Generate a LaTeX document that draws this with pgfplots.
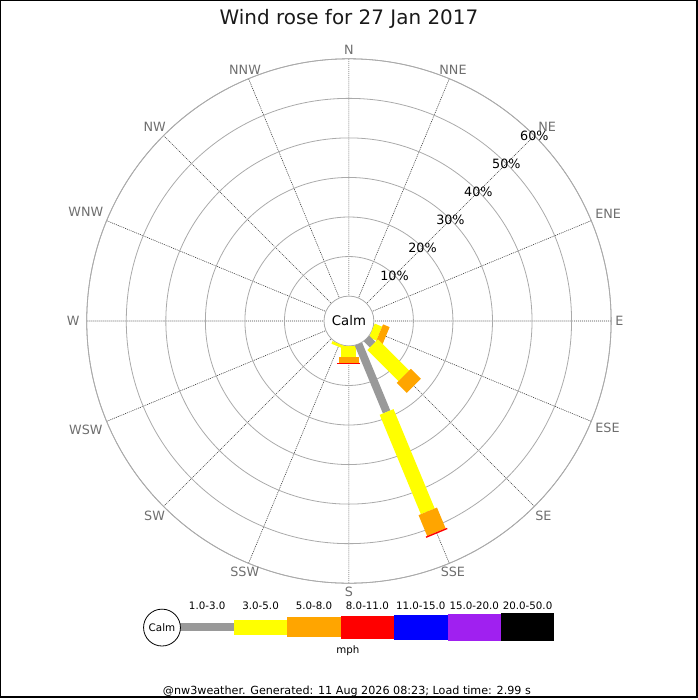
\documentclass[border=0pt]{standalone}
\usepackage{pgfplots}
\pgfplotsset{compat=1.18}
\usepgfplotslibrary{polar}
\usepackage{fontspec}
\setmainfont{DejaVu Sans}
\definecolor{ringgray}{RGB}{170,170,170}
\definecolor{spoke}{RGB}{60,60,60}
\definecolor{dirgray}{RGB}{110,110,110}
\definecolor{wgray}{RGB}{153,153,153}
\definecolor{wyellow}{RGB}{255,255,0}
\definecolor{worange}{RGB}{255,165,0}
\definecolor{wred}{RGB}{255,0,0}
\definecolor{wblue}{RGB}{0,0,255}
\definecolor{wpurple}{RGB}{160,32,240}
\pgfplotsset{
  wbar/.style={no markers, line cap=butt, y filter/.expression={y+6.3}, forget plot},
}
\tikzset{
  dirlab/.style={text=dirgray, inner sep=4bp, font=\fontsize{12.8bp}{15bp}\selectfont},
  pct/.style={text=black, inner sep=0pt, font=\fontsize{12.8bp}{15bp}\selectfont},
  leglab/.style={anchor=base, font=\fontsize{10.3bp}{12bp}\selectfont},
}
\begin{document}
\begin{tikzpicture}[x=1bp,y=1bp]
\path (0,0) rectangle (700,700);
\draw[line width=1.5bp] (0.75,0.75) rectangle (699.25,699.25);
\node[anchor=base, font=\fontsize{20bp}{24bp}\selectfont, text=black!90] at (350,675) {Wind rose for 27 Jan 2017};
\begin{polaraxis}[
  at={(350bp,378bp)}, anchor=center,
  scale only axis, width=526bp, height=526bp,
  xmin=0, xmax=360, ymin=0, ymax=66.3,
  xtick={0,22.5,45,67.5,90,112.5,135,157.5,180,202.5,225,247.5,270,292.5,315,337.5},
  ytick={16.3,26.3,36.3,46.3,56.3,66.3},
  xticklabels={}, yticklabels={},
  grid=major,
  major x grid style={spoke, line width=0.6bp, dash pattern=on 1bp off 1bp},
  major y grid style={ringgray, line width=0.8bp},
  axis line style={ringgray, line width=0.8bp},
  y axis line style={draw=none},
  major tick length=0pt,
  clip=false,
]
\draw[ringgray, line width=0.8bp, fill=white] (axis cs:0,0) circle[radius=25bp];
% SSW
\addplot[wbar, draw=wyellow, line width=15bp] coordinates {(247.5,0) (247.5,0.7)};
% S
\addplot[wbar, draw=wyellow, line width=15bp] coordinates {(270,0) (270,2.9)};
\addplot[wbar, draw=worange, line width=20bp] coordinates {(270,2.9) (270,4.2)};
\addplot[wbar, draw=wred, line width=23bp] coordinates {(270,4.2) (270,4.5)};
% ESE
\addplot[wbar, draw=wyellow, line width=15bp] coordinates {(337.5,0) (337.5,2.0)};
\addplot[wbar, draw=worange, line width=20bp] coordinates {(337.5,2.0) (337.5,3.8)};
% SE
\addplot[wbar, draw=wgray, line width=8bp] coordinates {(315,0) (315,2.2)};
\addplot[wbar, draw=wyellow, line width=15bp] coordinates {(315,2.2) (315,13.3)};
\addplot[wbar, draw=worange, line width=20bp] coordinates {(315,13.3) (315,16.9)};
% SSE
\addplot[wbar, draw=wgray, line width=8bp] coordinates {(292.5,0) (292.5,18.6)};
\addplot[wbar, draw=wyellow, line width=15bp] coordinates {(292.5,18.6) (292.5,45.8)};
\addplot[wbar, draw=worange, line width=20bp] coordinates {(292.5,45.8) (292.5,51.5)};
\addplot[wbar, draw=wred, line width=23bp] coordinates {(292.5,51.5) (292.5,51.85)};
\node[font=\fontsize{13.3bp}{15bp}\selectfont] at (axis cs:0,0) {Calm};
% percent labels
\node[pct] at (axis cs:45,16.3) {10\%};
\node[pct] at (axis cs:45,26.3) {20\%};
\node[pct] at (axis cs:45,36.3) {30\%};
\node[pct] at (axis cs:45,46.3) {40\%};
\node[pct] at (axis cs:45,56.3) {50\%};
\node[pct] at (axis cs:45,66.3) {60\%};
% direction labels
\node[dirlab, anchor=180] at (axis cs:0,66.3) {E};
\node[dirlab, anchor=202.5] at (axis cs:22.5,66.3) {ENE};
\node[dirlab, anchor=225, xshift=4bp] at (axis cs:45,66.3) {NE};
\node[dirlab, anchor=247.5] at (axis cs:67.5,66.3) {NNE};
\node[dirlab, anchor=270] at (axis cs:90,66.3) {N};
\node[dirlab, anchor=292.5] at (axis cs:112.5,66.3) {NNW};
\node[dirlab, anchor=315] at (axis cs:135,66.3) {NW};
\node[dirlab, anchor=337.5] at (axis cs:157.5,66.3) {WNW};
\node[dirlab, anchor=0, xshift=-3bp] at (axis cs:180,66.3) {W};
\node[dirlab, anchor=22.5] at (axis cs:202.5,66.3) {WSW};
\node[dirlab, anchor=45] at (axis cs:225,66.3) {SW};
\node[dirlab, anchor=67.5] at (axis cs:247.5,66.3) {SSW};
\node[dirlab, anchor=90] at (axis cs:270,66.3) {S};
\node[dirlab, anchor=112.5] at (axis cs:292.5,66.3) {SSE};
\node[dirlab, anchor=135] at (axis cs:315,66.3) {SE};
\node[dirlab, anchor=157.5] at (axis cs:337.5,66.3) {ESE};
\end{polaraxis}
% legend
\fill[wgray]   (181,66.8) rectangle (234.6,74.8);
\fill[wyellow] (234.6,63.3) rectangle (288.1,78.3);
\fill[worange] (288.1,60.6) rectangle (341.7,81.0);
\fill[wred]    (341.7,59.3) rectangle (395.3,82.3);
\fill[wblue]   (395.3,58.3) rectangle (448.9,83.3);
\fill[wpurple] (448.9,57.4) rectangle (502.4,84.2);
\fill[black]   (502.4,56.6) rectangle (556,85.0);
\draw[black, line width=0.8bp, fill=white] (162.5,70.5) circle[radius=18.5];
\node[font=\fontsize{10.4bp}{12bp}\selectfont] at (162.5,70.5) {Calm};
\node[leglab] at (207.8,89) {1.0-3.0};
\node[leglab] at (261.4,89) {3.0-5.0};
\node[leglab] at (314.9,89) {5.0-8.0};
\node[leglab] at (368.5,89) {8.0-11.0};
\node[leglab] at (422.1,89) {11.0-15.0};
\node[leglab] at (475.7,89) {15.0-20.0};
\node[leglab] at (529.2,89) {20.0-50.0};
\node[leglab] at (349,44) {mph};
\node[anchor=base, font=\fontsize{11.2bp}{13bp}\selectfont] at (348,3.5) {@nw3weather. Generated: 11 Aug 2026 08:23; Load time: 2.99 s};
\end{tikzpicture}
\end{document}
